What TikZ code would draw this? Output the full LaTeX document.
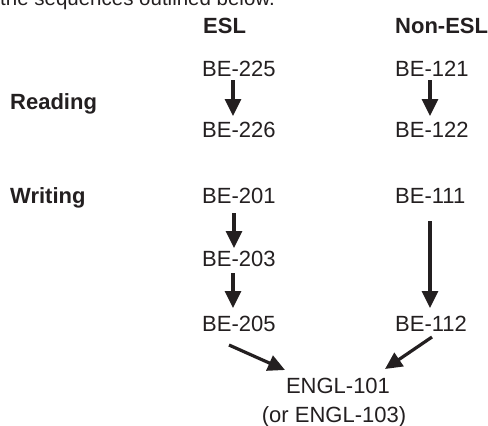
\documentclass[tikz,border=0pt]{standalone}
\usepackage{fontspec}
\setmainfont{Liberation Sans}
\usetikzlibrary{arrows.meta}
\definecolor{ink}{HTML}{231F20}
\begin{document}
\begin{tikzpicture}[x=1pt,y=-1pt,
  lbl/.style={inner sep=0pt, text=ink, font=\fontsize{22}{24}\selectfont},
  hdr/.style={inner sep=0pt, text=ink, font=\fontsize{22}{24}\selectfont\bfseries},
  arr/.style={draw=ink, line width=3.2pt, -{Triangle[width=16pt,length=17pt]}}]
\useasboundingbox (0,0) rectangle (488,426);
\clip (0,0) rectangle (488,426);
\node[lbl, anchor=base west, font=\fontsize{20.5}{22}\selectfont] (intro) at (0,5) {the sequences outlined below.};
\node[hdr, anchor=base west] (esl) at (203,33) {ESL};
\node[hdr, anchor=base west] (nonesl) at (395,33) {Non-ESL};
\node[hdr, anchor=base west] (reading) at (10,109) {Reading};
\node[hdr, anchor=base west] (writing) at (10,203) {Writing};
\node[lbl, anchor=base west] (b225) at (202,76) {BE-225};
\node[lbl, anchor=base west] (b121) at (395,76) {BE-121};
\node[lbl, anchor=base west] (b226) at (202,137) {BE-226};
\node[lbl, anchor=base west] (b122) at (395,137) {BE-122};
\node[lbl, anchor=base west] (b201) at (202,203) {BE-201};
\node[lbl, anchor=base west] (b111) at (395,203) {BE-111};
\node[lbl, anchor=base west] (b203) at (202,266) {BE-203};
\node[lbl, anchor=base west] (b205) at (202,331) {BE-205};
\node[lbl, anchor=base west] (b112) at (395,331) {BE-112};
\node[lbl, anchor=base] (engl) at (338,393) {ENGL-101};
\node[lbl, anchor=base] (engl3) at (334,422) {(or ENGL-103)};
\coordinate (r1s) at (233,80);
\coordinate (r1e) at (233,116);
\coordinate (r2s) at (430,80);
\coordinate (r2e) at (430,116);
\coordinate (w1s) at (234,213);
\coordinate (w1e) at (234,248);
\coordinate (w2s) at (233,273);
\coordinate (w2e) at (233,308);
\coordinate (w3s) at (430,221);
\coordinate (w3e) at (430,308);
\coordinate (e1s) at (229,345);
\coordinate (e1e) at (285,370);
\coordinate (e2s) at (432,337);
\coordinate (e2e) at (385,369);
\draw[arr] (r1s) -- (r1e);
\draw[arr] (r2s) -- (r2e);
\draw[arr] (w1s) -- (w1e);
\draw[arr] (w2s) -- (w2e);
\draw[arr] (w3s) -- (w3e);
\draw[arr] (e1s) -- (e1e);
\draw[arr] (e2s) -- (e2e);
\end{tikzpicture}
\end{document}
